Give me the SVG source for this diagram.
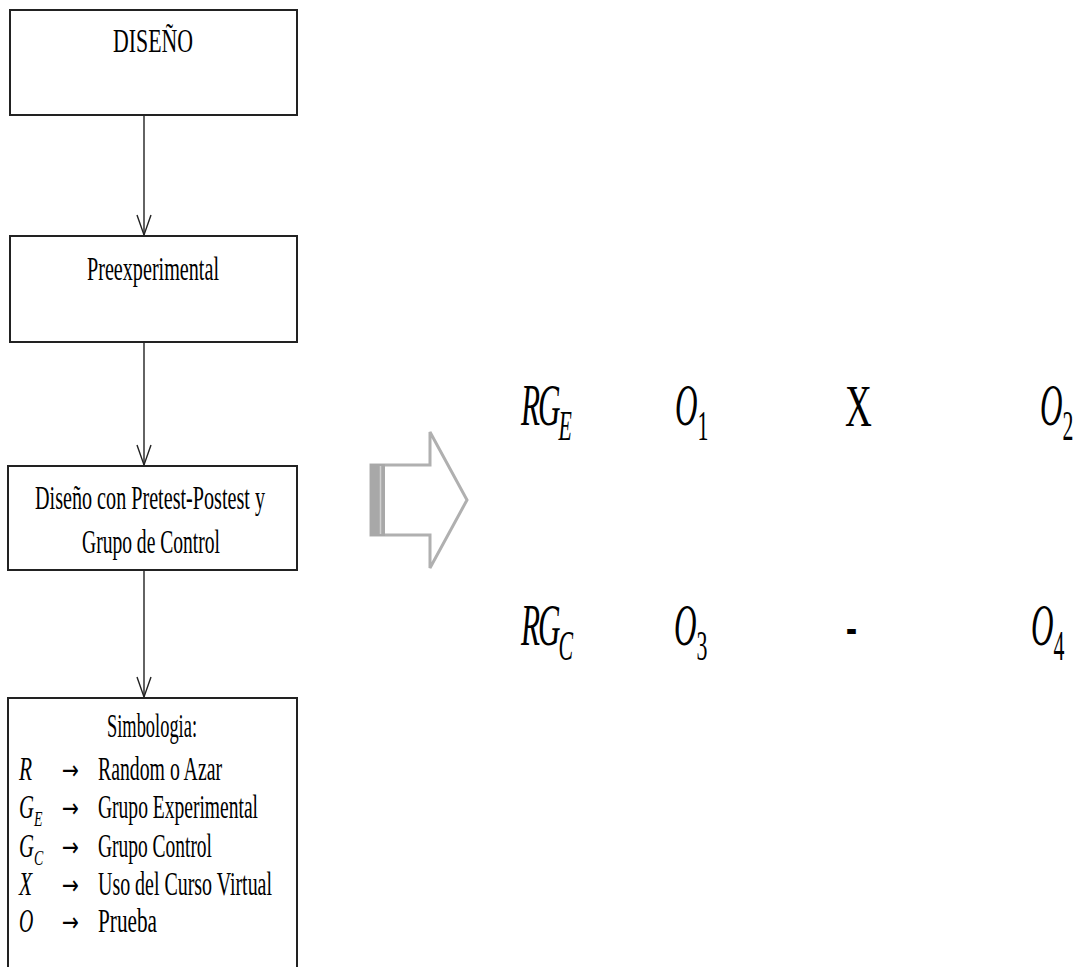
<svg xmlns="http://www.w3.org/2000/svg" width="1081" height="967" viewBox="0 0 1081 967">
<style>
.box{fill:#fff;stroke:#222;stroke-width:2}
.t{font-family:"Liberation Serif","Times New Roman",serif;font-size:33px;fill:#000}
.mi{font-family:"Liberation Serif","Times New Roman",serif;font-style:italic;fill:#000}
.mu{font-family:"Liberation Serif","Times New Roman",serif;font-style:normal;fill:#000}
.ar{font-family:"DejaVu Sans",sans-serif;font-size:26px;fill:#000}
.conn{stroke:#222;stroke-width:1.4;fill:none}
</style>
<defs>
<marker id="v" markerUnits="userSpaceOnUse" markerWidth="24" markerHeight="18" viewBox="-22 -9 24 18" refX="0" refY="0" orient="auto" overflow="visible">
<path d="M-20,-7 L0,0 L-20,7" fill="none" stroke="#222" stroke-width="1.4"/>
</marker>
</defs>
<rect width="1081" height="967" fill="#fff"/>
<g id="connectors">
<line class="conn" x1="144" y1="115" x2="144" y2="235" marker-end="url(#v)"/>
<line class="conn" x1="144" y1="342" x2="144" y2="465" marker-end="url(#v)"/>
<line class="conn" x1="144" y1="570" x2="144" y2="697" marker-end="url(#v)"/>
</g>
<g id="node-diseno">
<rect class="box" x="10" y="10" width="287" height="105"/>
<text class="t" x="113" y="52" textLength="80" lengthAdjust="spacingAndGlyphs">DISEÑO</text>
</g>
<g id="node-preexperimental">
<rect class="box" x="10" y="236" width="287" height="106"/>
<text class="t" x="87" y="280" textLength="132" lengthAdjust="spacingAndGlyphs">Preexperimental</text>
</g>
<g id="node-pretest">
<rect class="box" x="8" y="466" width="289" height="104"/>
<text class="t" x="35" y="509" textLength="230" lengthAdjust="spacingAndGlyphs">Diseño con Pretest-Postest y</text>
<text class="t" x="82" y="553" textLength="138" lengthAdjust="spacingAndGlyphs">Grupo de Control</text>
</g>
<g id="node-simbologia">
<rect class="box" x="8" y="698" width="289" height="290"/>
<text class="t" x="107" y="737" textLength="90" lengthAdjust="spacingAndGlyphs">Simbologia:</text>
<text class="mi" font-size="33" transform="translate(19,780) scale(0.65,1)">R</text>
<text class="ar" x="62" y="779" textLength="17" lengthAdjust="spacingAndGlyphs">→</text>
<text class="t" x="98" y="780" textLength="124" lengthAdjust="spacingAndGlyphs">Random o Azar</text>
<text class="mi" font-size="33" transform="translate(19,818) scale(0.63,1)">G<tspan font-size="22" dy="8">E</tspan></text>
<text class="ar" x="62" y="817" textLength="17" lengthAdjust="spacingAndGlyphs">→</text>
<text class="t" x="98" y="818" textLength="160" lengthAdjust="spacingAndGlyphs">Grupo Experimental</text>
<text class="mi" font-size="33" transform="translate(19,857) scale(0.63,1)">G<tspan font-size="22" dy="8">C</tspan></text>
<text class="ar" x="62" y="856" textLength="17" lengthAdjust="spacingAndGlyphs">→</text>
<text class="t" x="98" y="857" textLength="114" lengthAdjust="spacingAndGlyphs">Grupo Control</text>
<text class="mi" font-size="33" transform="translate(19,895) scale(0.65,1)">X</text>
<text class="ar" x="62" y="894" textLength="17" lengthAdjust="spacingAndGlyphs">→</text>
<text class="t" x="98" y="895" textLength="174" lengthAdjust="spacingAndGlyphs">Uso del Curso Virtual</text>
<text class="mi" font-size="33" transform="translate(19,932) scale(0.6,1)">O</text>
<text class="ar" x="62" y="931" textLength="17" lengthAdjust="spacingAndGlyphs">→</text>
<text class="t" x="98" y="932" textLength="59" lengthAdjust="spacingAndGlyphs">Prueba</text>
</g>
<g id="big-arrow">
<polygon points="371,465 430,465 430,432 467,500 430,568 430,535 371,535" fill="#fff" stroke="#b0b0b0" stroke-width="3"/>
<rect x="370" y="464" width="15" height="72" fill="#a8a8a8"/>
<line x1="380.5" y1="466" x2="380.5" y2="534" stroke="#d0d0d0" stroke-width="1.5"/>
</g>
<g id="design-matrix">
<text class="mi" font-size="60" transform="translate(521,425) scale(0.52,1)"><tspan letter-spacing="-4">RG</tspan><tspan font-size="42" dy="15">E</tspan></text>
<text class="mi" font-size="60" transform="translate(675,425) scale(0.52,1)">O<tspan class="mu" font-size="42" dy="15">1</tspan></text>
<text class="mu" font-size="60" transform="translate(845,426) scale(0.62,1)">X</text>
<text class="mi" font-size="60" transform="translate(1040,425) scale(0.52,1)">O<tspan class="mu" font-size="42" dy="15">2</tspan></text>
<text class="mi" font-size="60" transform="translate(521,645) scale(0.52,1)"><tspan letter-spacing="-4">RG</tspan><tspan font-size="42" dy="15">C</tspan></text>
<text class="mi" font-size="60" transform="translate(674,645) scale(0.52,1)">O<tspan class="mu" font-size="42" dy="15">3</tspan></text>
<text class="mu" font-size="60" font-weight="bold" transform="translate(846,645) scale(0.55,1)">-</text>
<text class="mi" font-size="60" transform="translate(1031,645) scale(0.52,1)">O<tspan class="mu" font-size="42" dy="15">4</tspan></text>
</g>
</svg>
